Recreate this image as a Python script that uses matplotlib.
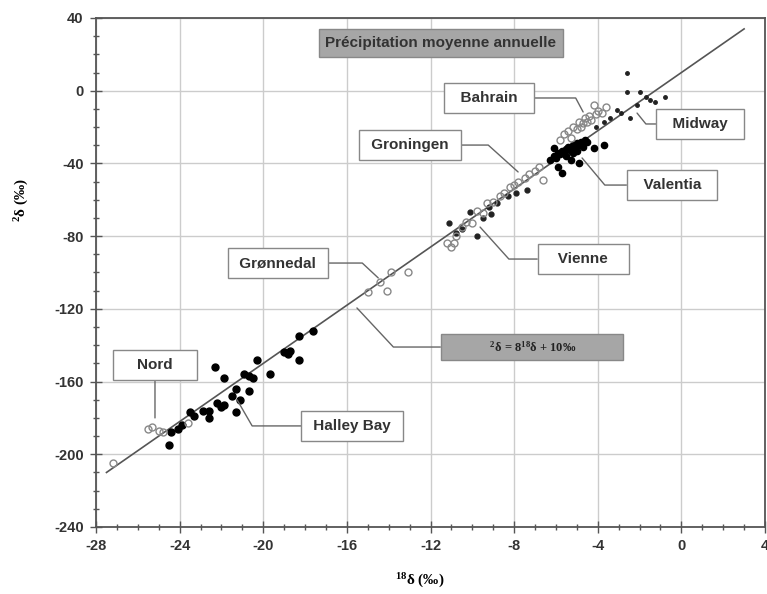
import matplotlib
matplotlib.use('Agg')
import matplotlib.pyplot as plt
import numpy as np
from matplotlib.ticker import MultipleLocator

plt.rcParams['mathtext.fontset'] = 'custom'
plt.rcParams['mathtext.rm'] = 'Liberation Serif:bold'
plt.rcParams['mathtext.it'] = 'Liberation Serif:bold'
plt.rcParams['mathtext.bf'] = 'Liberation Serif:bold'
plt.rcParams['axes.unicode_minus'] = False

# stations (18O, 2H) in permil
halley_x = [-22.3, -21.9, -20.3, -19.7, -20.9, -20.7, -20.5, -21.3, -20.7, -21.5, -21.1, -21.3,
            -22.2, -22.0, -21.9, -22.6, -22.6, -23.3, -23.5, -24.1, -23.9, -24.5, -19.0, -18.8,
            -18.7, -18.3, -18.3, -17.6, -22.9, -24.4]
halley_y = [-152, -158, -148, -156, -156, -157, -158, -164, -165, -168, -170, -177,
            -172, -174, -173, -176, -180, -179, -177, -186, -184, -195, -144, -145,
            -143, -148, -135, -132, -176, -188]
nord_x = [-25.5, -25.3, -25.0, -24.8, -23.6, -27.2]
nord_y = [-186, -185, -187, -188, -183, -205]
gronnedal_x = [-15.0, -14.4, -14.1, -13.9, -13.1]
gronnedal_y = [-111, -105, -110, -100, -100]
groningen_x = [-11.2, -11.0, -10.8, -10.9, -10.5, -10.3, -10.0, -9.8, -9.5, -9.3, -9.0,
               -8.7, -8.5, -8.2, -8.0, -7.8, -7.5, -7.3, -7.0, -6.8, -6.6]
groningen_y = [-84, -86, -80, -84, -75, -72, -73, -66, -67, -62, -61,
               -58, -56, -53, -52, -50, -48, -46, -44, -42, -49]
vienne_x = [-10.1, -11.1, -9.8, -9.1, -7.4, -10.5, -9.5, -8.8, -8.3, -7.9, -10.8, -9.2]
vienne_y = [-66.5, -72.8, -80, -67.8, -54.6, -76, -70, -62, -58, -56, -78, -64]
valentia_x = [-6.3, -6.1, -6.0, -5.9, -5.8, -5.7, -5.6, -5.5, -5.5, -5.4, -5.3, -5.2, -5.2,
              -5.1, -5.0, -5.0, -4.9, -4.8, -4.7, -4.6, -4.5, -5.7, -4.2, -3.7, -6.1, -5.9,
              -5.3, -4.9]
valentia_y = [-38, -36, -37, -34, -35, -33, -34, -32, -36, -31, -33, -30, -34,
              -31, -29, -33, -30, -28, -31, -27, -28, -45, -31.5, -30, -31.5, -42,
              -38, -40]
bahrain_x = [-5.6, -5.4, -5.2, -5.0, -4.9, -4.7, -4.6, -4.4, -4.3, -4.1, -4.0, -3.8, -3.6,
             -5.3, -4.8, -4.5, -5.8, -4.2]
bahrain_y = [-24, -22, -20, -21, -17, -18, -15, -14, -16, -13, -11, -12, -9,
             -26, -20, -17, -27, -8]
midway_x = [-2.6, -2.6, -2.0, -1.7, -1.25, -0.8, -2.1, -2.45, -3.1, -3.4, -1.5, -2.9, -3.7, -4.1]
midway_y = [9.6, -0.5, -0.5, -3.3, -6, -3.6, -7.9, -15.2, -10.6, -15.2, -5, -12, -17, -20]

# global meteoric water line
lmwl_x = np.array([-27.5, 3.0])
slope, intercept = 8, 10

fig = plt.figure(figsize=(7.67, 5.94), dpi=100)
ax = fig.add_axes([0.1252, 0.1128, 0.8722, 0.8569])

ax.plot(lmwl_x, slope * lmwl_x + intercept, color='#555555', lw=1.2, zorder=2)

filled = dict(ls='none', marker='o', color='black', ms=5, zorder=3)
opened = dict(ls='none', marker='o', mfc='none', mec='#888888', mew=1, ms=5, zorder=3)
ax.plot(halley_x, halley_y, **filled)
ax.plot(valentia_x, valentia_y, ls='none', marker='o', color='black', ms=4.5, zorder=3)
ax.plot(vienne_x, vienne_y, ls='none', marker='o', color='#222222', ms=3.5, zorder=3)
ax.plot(midway_x, midway_y, ls='none', marker='o', color='#222222', ms=2.5, zorder=3)
ax.plot(nord_x, nord_y, **opened)
ax.plot(gronnedal_x, gronnedal_y, **opened)
ax.plot(groningen_x, groningen_y, **opened)
ax.plot(bahrain_x, bahrain_y, **opened)

ax.set_xlim(-28, 4)
ax.set_ylim(-240, 40)
ax.xaxis.set_major_locator(MultipleLocator(4))
ax.xaxis.set_minor_locator(MultipleLocator(1))
ax.yaxis.set_major_locator(MultipleLocator(40))
ax.yaxis.set_minor_locator(MultipleLocator(10))
ax.grid(True, which='major', color='#cccccc', lw=1, zorder=0)
ax.set_axisbelow(True)
for s in ax.spines.values():
    s.set_color('#555555')
    s.set_linewidth(1.3)
ax.tick_params(which='both', direction='inout', color='#555555', width=1)
ax.tick_params(which='major', length=8, pad=5)
ax.tick_params(which='minor', length=5)
for lab in ax.get_xticklabels() + ax.get_yticklabels():
    lab.set_fontfamily('Liberation Sans')
    lab.set_fontweight('bold')
    lab.set_fontsize(10.5)
    lab.set_color('#333333')

ax.set_xlabel('$^{18}$δ (‰)', family='Liberation Serif', weight='bold', fontsize=11)
ax.set_ylabel('$^{2}$δ (‰)', family='Liberation Serif', weight='bold', fontsize=11)
ax.xaxis.set_label_coords(0.484, -0.088)
ax.yaxis.set_label_coords(-0.097, 0.642)

white_box = dict(boxstyle='square,pad=0.5', fc='white', ec='#888888', lw=1)
grey_box = dict(boxstyle='square,pad=0.45', fc='#a6a6a6', ec='#888888', lw=1)
lead = dict(arrowstyle='-', color='#666666', lw=1, shrinkA=0, shrinkB=0)
lab_font = dict(family='Liberation Sans', weight='bold', fontsize=11, color='#333333',
                ha='center', va='center')

ax.text(-11.5, 26.2, 'Précipitation moyenne annuelle', bbox=grey_box, zorder=5, **lab_font)

labels = [
    ('  Bahrain  ', (-9.2, -4.0), (-4.7, -11.7), 'angle,angleA=0,angleB=-62,rad=0'),
    ('  Midway  ', (0.89, -18.3), (-2.12, -12.3), 'angle,angleA=0,angleB=-51,rad=0'),
    (' Groningen ', (-12.98, -29.9), (-7.81, -44.7), 'angle,angleA=0,angleB=-42,rad=0'),
    ('  Valentia  ', (-0.45, -51.9), (-4.75, -37.0), 'angle,angleA=0,angleB=-50,rad=0'),
    ('   Vienne   ', (-4.7, -92.6), (-9.63, -75.0), 'angle,angleA=0,angleB=-48,rad=0'),
    (' Grønnedal ', (-19.3, -94.8), (-14.5, -103.0), 'angle,angleA=0,angleB=-43,rad=0'),
    ('    Nord    ', (-25.18, -150.9), (-25.18, -180.0), 'arc3,rad=0'),
    (' Halley Bay ', (-15.75, -184.4), (-21.25, -170.1), 'angle,angleA=0,angleB=-60,rad=0'),
]
for txt, xytext, xy, cs in labels:
    ax.annotate(txt, xy=xy, xytext=xytext, bbox=white_box, zorder=5,
                arrowprops=dict(connectionstyle=cs, **lead), **lab_font)

ax.annotate('              $^{2}$δ = 8$^{18}$δ + 10‰              ', xy=(-15.52, -119.5),
            xytext=(-7.14, -141.0), bbox=grey_box, zorder=5,
            arrowprops=dict(connectionstyle='angle,angleA=0,angleB=-47,rad=0', **lead),
            family='Liberation Serif', weight='bold', fontsize=9, color='#222222',
            ha='center', va='center')

fig.savefig('out.png', dpi=100)
